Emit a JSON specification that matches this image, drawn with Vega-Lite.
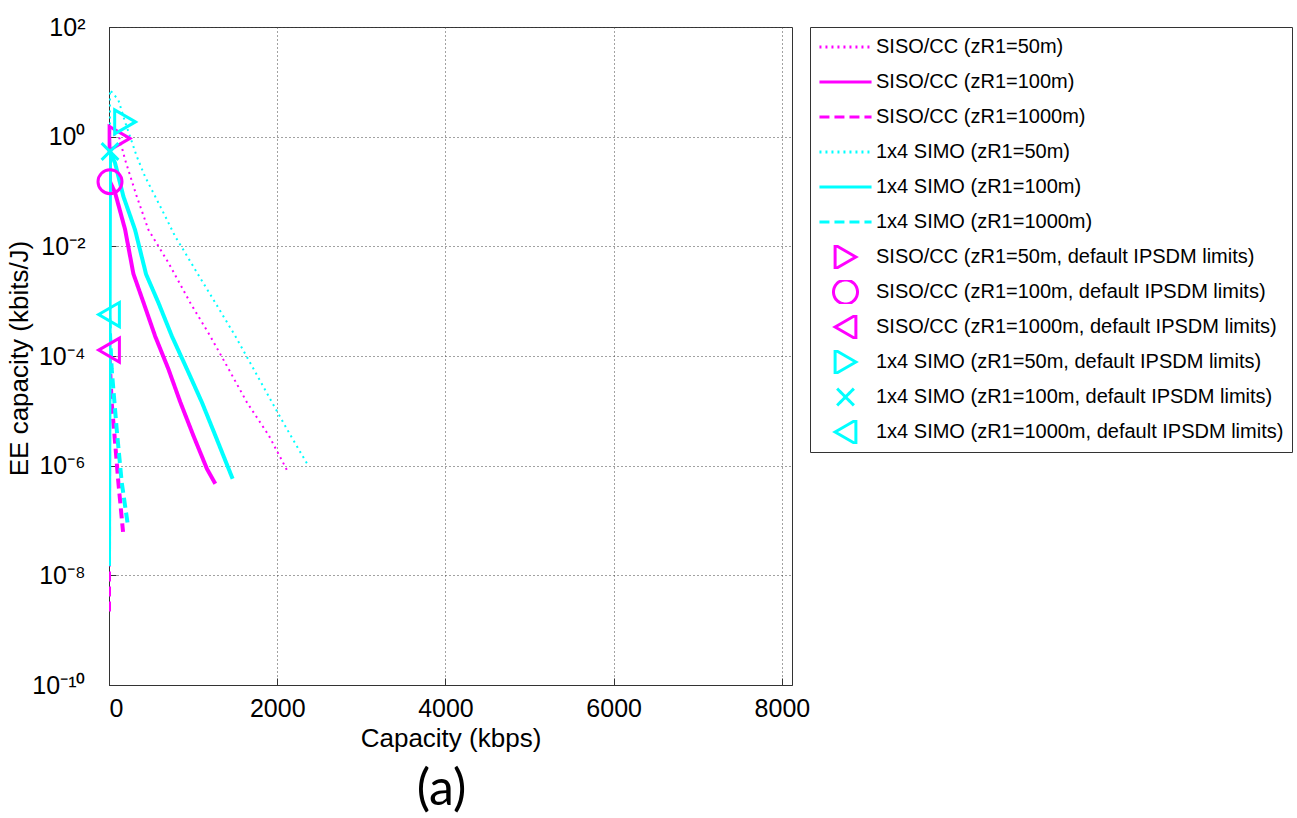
{
  "$schema": "https://vega.github.io/schema/vega-lite/v6.json",
  "width": 683,
  "height": 658,
  "autosize": {"type": "none"},
  "padding": {"left": 109, "top": 27, "right": 505, "bottom": 133},
  "background": "white",
  "config": {
    "font": "Liberation Sans",
    "view": {"stroke": "#333", "strokeWidth": 1},
    "axis": {
      "labelFont": "Liberation Sans", "titleFont": "Liberation Sans",
      "labelFontSize": 25, "titleFontSize": 26, "titleFontWeight": "normal",
      "labelColor": "#000", "titleColor": "#000",
      "domainColor": "#333", "tickColor": "#333",
      "gridColor": "#444", "gridDash": [1, 3], "gridWidth": 1
    },
    "legend": {
      "labelFont": "Liberation Sans", "labelFontSize": 20, "labelColor": "#000",
      "labelLimit": 600, "labelOffset": 17, "symbolOffset": 14, "rowPadding": 11, "clipHeight": 24,
      "symbolSize": 576, "symbolStrokeWidth": 3,
      "padding": 8, "strokeColor": "#333", "fillColor": "white"
    }
  },
  "title": {"text": "(a)", "orient": "bottom", "font": "Lato", "fontSize": 50, "fontWeight": "normal", "color": "#000", "offset": 14, "dx": -9},
  "datasets": {
    "curves": [
      {"series": "SISO/CC (zR1=50m)", "capacity": 0, "ee": 1e-7},
      {"series": "SISO/CC (zR1=50m)", "capacity": 4, "ee": 1.3},
      {"series": "SISO/CC (zR1=50m)", "capacity": 125, "ee": 0.93},
      {"series": "SISO/CC (zR1=50m)", "capacity": 191, "ee": 0.38},
      {"series": "SISO/CC (zR1=50m)", "capacity": 330, "ee": 0.0813},
      {"series": "SISO/CC (zR1=50m)", "capacity": 469, "ee": 0.02},
      {"series": "SISO/CC (zR1=50m)", "capacity": 707, "ee": 0.00501},
      {"series": "SISO/CC (zR1=50m)", "capacity": 966, "ee": 0.000933},
      {"series": "SISO/CC (zR1=50m)", "capacity": 1205, "ee": 0.000229},
      {"series": "SISO/CC (zR1=50m)", "capacity": 1423, "ee": 0.0000575},
      {"series": "SISO/CC (zR1=50m)", "capacity": 1642, "ee": 0.0000141},
      {"series": "SISO/CC (zR1=50m)", "capacity": 1900, "ee": 0.00000355},
      {"series": "SISO/CC (zR1=50m)", "capacity": 2119, "ee": 0.000000813},
      {"series": "SISO/CC (zR1=100m)", "capacity": 0, "ee": 5e-8},
      {"series": "SISO/CC (zR1=100m)", "capacity": 1, "ee": 1.6},
      {"series": "SISO/CC (zR1=100m)", "capacity": 12, "ee": 0.151},
      {"series": "SISO/CC (zR1=100m)", "capacity": 72, "ee": 0.0955},
      {"series": "SISO/CC (zR1=100m)", "capacity": 191, "ee": 0.0204},
      {"series": "SISO/CC (zR1=100m)", "capacity": 290, "ee": 0.00316},
      {"series": "SISO/CC (zR1=100m)", "capacity": 409, "ee": 0.000955},
      {"series": "SISO/CC (zR1=100m)", "capacity": 549, "ee": 0.000229},
      {"series": "SISO/CC (zR1=100m)", "capacity": 707, "ee": 0.0000575},
      {"series": "SISO/CC (zR1=100m)", "capacity": 847, "ee": 0.0000145},
      {"series": "SISO/CC (zR1=100m)", "capacity": 1005, "ee": 0.00000347},
      {"series": "SISO/CC (zR1=100m)", "capacity": 1165, "ee": 0.000000871},
      {"series": "SISO/CC (zR1=100m)", "capacity": 1264, "ee": 0.000000468},
      {"series": "SISO/CC (zR1=1000m)", "capacity": 0, "ee": 2.2e-9},
      {"series": "SISO/CC (zR1=1000m)", "capacity": 1, "ee": 0.000128},
      {"series": "SISO/CC (zR1=1000m)", "capacity": 15, "ee": 0.00005},
      {"series": "SISO/CC (zR1=1000m)", "capacity": 32, "ee": 0.0000141},
      {"series": "SISO/CC (zR1=1000m)", "capacity": 72, "ee": 0.0000027},
      {"series": "SISO/CC (zR1=1000m)", "capacity": 111, "ee": 0.0000005},
      {"series": "SISO/CC (zR1=1000m)", "capacity": 167, "ee": 0.000000062},
      {"series": "1x4 SIMO (zR1=50m)", "capacity": 0, "ee": 1e-7},
      {"series": "1x4 SIMO (zR1=50m)", "capacity": 12, "ee": 7.1},
      {"series": "1x4 SIMO (zR1=50m)", "capacity": 111, "ee": 4.68},
      {"series": "1x4 SIMO (zR1=50m)", "capacity": 191, "ee": 1.86},
      {"series": "1x4 SIMO (zR1=50m)", "capacity": 330, "ee": 0.437},
      {"series": "1x4 SIMO (zR1=50m)", "capacity": 429, "ee": 0.186},
      {"series": "1x4 SIMO (zR1=50m)", "capacity": 549, "ee": 0.0813},
      {"series": "1x4 SIMO (zR1=50m)", "capacity": 668, "ee": 0.0355},
      {"series": "1x4 SIMO (zR1=50m)", "capacity": 787, "ee": 0.0151},
      {"series": "1x4 SIMO (zR1=50m)", "capacity": 906, "ee": 0.00759},
      {"series": "1x4 SIMO (zR1=50m)", "capacity": 1046, "ee": 0.00331},
      {"series": "1x4 SIMO (zR1=50m)", "capacity": 1264, "ee": 0.000933},
      {"series": "1x4 SIMO (zR1=50m)", "capacity": 1503, "ee": 0.000229},
      {"series": "1x4 SIMO (zR1=50m)", "capacity": 1721, "ee": 0.0000575},
      {"series": "1x4 SIMO (zR1=50m)", "capacity": 1940, "ee": 0.0000141},
      {"series": "1x4 SIMO (zR1=50m)", "capacity": 2159, "ee": 0.00000355},
      {"series": "1x4 SIMO (zR1=50m)", "capacity": 2358, "ee": 0.00000107},
      {"series": "1x4 SIMO (zR1=100m)", "capacity": 0, "ee": 1.5e-8},
      {"series": "1x4 SIMO (zR1=100m)", "capacity": 12, "ee": 0.537},
      {"series": "1x4 SIMO (zR1=100m)", "capacity": 72, "ee": 0.331},
      {"series": "1x4 SIMO (zR1=100m)", "capacity": 171, "ee": 0.0813},
      {"series": "1x4 SIMO (zR1=100m)", "capacity": 310, "ee": 0.02},
      {"series": "1x4 SIMO (zR1=100m)", "capacity": 441, "ee": 0.00309},
      {"series": "1x4 SIMO (zR1=100m)", "capacity": 588, "ee": 0.000933},
      {"series": "1x4 SIMO (zR1=100m)", "capacity": 748, "ee": 0.000229},
      {"series": "1x4 SIMO (zR1=100m)", "capacity": 927, "ee": 0.0000575},
      {"series": "1x4 SIMO (zR1=100m)", "capacity": 1106, "ee": 0.0000141},
      {"series": "1x4 SIMO (zR1=100m)", "capacity": 1264, "ee": 0.00000355},
      {"series": "1x4 SIMO (zR1=100m)", "capacity": 1470, "ee": 0.000000575},
      {"series": "1x4 SIMO (zR1=1000m)", "capacity": 0, "ee": 1.5e-8},
      {"series": "1x4 SIMO (zR1=1000m)", "capacity": 1, "ee": 0.00057},
      {"series": "1x4 SIMO (zR1=1000m)", "capacity": 15, "ee": 0.0002},
      {"series": "1x4 SIMO (zR1=1000m)", "capacity": 32, "ee": 0.000058},
      {"series": "1x4 SIMO (zR1=1000m)", "capacity": 91, "ee": 0.0000047},
      {"series": "1x4 SIMO (zR1=1000m)", "capacity": 151, "ee": 0.0000005},
      {"series": "1x4 SIMO (zR1=1000m)", "capacity": 226, "ee": 0.000000079}
    ],
    "markers": [
      {"series": "SISO/CC (zR1=50m, default IPSDM limits)", "capacity": 125, "ee": 0.93},
      {"series": "SISO/CC (zR1=100m, default IPSDM limits)", "capacity": 12, "ee": 0.151},
      {"series": "SISO/CC (zR1=1000m, default IPSDM limits)", "capacity": 0, "ee": 0.000128},
      {"series": "1x4 SIMO (zR1=50m, default IPSDM limits)", "capacity": 191, "ee": 1.86},
      {"series": "1x4 SIMO (zR1=100m, default IPSDM limits)", "capacity": 12, "ee": 0.537},
      {"series": "1x4 SIMO (zR1=1000m, default IPSDM limits)", "capacity": 0, "ee": 0.00057}
    ]
  },
  "layer": [
    {
      "data": {"name": "curves"},
      "mark": {"type": "line", "clip": true},
      "encoding": {
        "x": {
          "field": "capacity", "type": "quantitative",
          "scale": {"domain": [0, 8120], "nice": false, "zero": false},
          "axis": {"values": [0, 2000, 4000, 6000, 8000], "format": "d", "title": "Capacity (kbps)", "tickSize": -7, "labelPadding": 18, "titlePadding": 4}
        },
        "y": {
          "field": "ee", "type": "quantitative",
          "scale": {"type": "log", "domain": [1e-10, 100], "nice": false},
          "axis": {
            "values": [1e-10, 1e-8, 1e-6, 1e-4, 1e-2, 1, 100],
            "labelExpr": "datum.value >= 50 ? '10²' : datum.value >= 0.5 ? '10⁰' : datum.value >= 0.005 ? '10⁻²' : datum.value >= 0.00005 ? '10⁻⁴' : datum.value >= 0.0000005 ? '10⁻⁶' : datum.value >= 0.000000005 ? '10⁻⁸' : '10⁻¹⁰'",
            "title": "EE capacity (kbits/J)", "tickSize": -7, "labelPadding": 31, "titleBaseline": "alphabetic", "titleX": -82, "titleY": 331
          }
        },
        "color": {
          "field": "series", "type": "nominal",
          "scale": {
            "domain": ["SISO/CC (zR1=50m)", "SISO/CC (zR1=100m)", "SISO/CC (zR1=1000m)", "1x4 SIMO (zR1=50m)", "1x4 SIMO (zR1=100m)", "1x4 SIMO (zR1=1000m)", "SISO/CC (zR1=50m, default IPSDM limits)", "SISO/CC (zR1=100m, default IPSDM limits)", "SISO/CC (zR1=1000m, default IPSDM limits)", "1x4 SIMO (zR1=50m, default IPSDM limits)", "1x4 SIMO (zR1=100m, default IPSDM limits)", "1x4 SIMO (zR1=1000m, default IPSDM limits)"],
            "range": ["#ff00ff", "#ff00ff", "#ff00ff", "#00ffff", "#00ffff", "#00ffff", "#ff00ff", "#ff00ff", "#ff00ff", "#00ffff", "#00ffff", "#00ffff"]
          },
          "legend": {"title": null, "orient": "none", "legendX": 701, "legendY": 0, "encode": {"symbols": {"update": {"fill": {"value": "transparent"}}}}}
        },
        "strokeDash": {
          "field": "series", "type": "nominal",
          "scale": {
            "domain": ["SISO/CC (zR1=50m)", "SISO/CC (zR1=100m)", "SISO/CC (zR1=1000m)", "1x4 SIMO (zR1=50m)", "1x4 SIMO (zR1=100m)", "1x4 SIMO (zR1=1000m)", "SISO/CC (zR1=50m, default IPSDM limits)", "SISO/CC (zR1=100m, default IPSDM limits)", "SISO/CC (zR1=1000m, default IPSDM limits)", "1x4 SIMO (zR1=50m, default IPSDM limits)", "1x4 SIMO (zR1=100m, default IPSDM limits)", "1x4 SIMO (zR1=1000m, default IPSDM limits)"],
            "range": [[2, 4], [1, 0], [10, 5], [2, 4], [1, 0], [10, 5], [1, 0], [1, 0], [1, 0], [1, 0], [1, 0], [1, 0]]
          },
          "legend": {"title": null, "orient": "none", "legendX": 701, "legendY": 0}
        },
        "strokeWidth": {
          "field": "series", "type": "nominal",
          "scale": {
            "type": "ordinal",
            "domain": ["SISO/CC (zR1=50m)", "SISO/CC (zR1=100m)", "SISO/CC (zR1=1000m)", "1x4 SIMO (zR1=50m)", "1x4 SIMO (zR1=100m)", "1x4 SIMO (zR1=1000m)"],
            "range": [2, 4, 4, 2, 4, 4]
          },
          "legend": null
        }
      }
    },
    {
      "data": {"name": "markers"},
      "mark": {"type": "point", "filled": false, "clip": false, "opacity": 1, "size": 576, "strokeWidth": 3},
      "encoding": {
        "x": {"field": "capacity", "type": "quantitative"},
        "y": {"field": "ee", "type": "quantitative"},
        "color": {"field": "series", "type": "nominal"},
        "shape": {
          "field": "series", "type": "nominal",
          "scale": {
            "domain": ["SISO/CC (zR1=50m)", "SISO/CC (zR1=100m)", "SISO/CC (zR1=1000m)", "1x4 SIMO (zR1=50m)", "1x4 SIMO (zR1=100m)", "1x4 SIMO (zR1=1000m)", "SISO/CC (zR1=50m, default IPSDM limits)", "SISO/CC (zR1=100m, default IPSDM limits)", "SISO/CC (zR1=1000m, default IPSDM limits)", "1x4 SIMO (zR1=50m, default IPSDM limits)", "1x4 SIMO (zR1=100m, default IPSDM limits)", "1x4 SIMO (zR1=1000m, default IPSDM limits)"],
            "range": ["M-2.17,0L2.17,0", "M-2.17,0L2.17,0", "M-2.17,0L2.17,0", "M-2.17,0L2.17,0", "M-2.17,0L2.17,0", "M-2.17,0L2.17,0", "triangle-right", "circle", "triangle-left", "triangle-right", "M-0.7,-0.7L0.7,0.7M-0.7,0.7L0.7,-0.7", "triangle-left"]
          },
          "legend": {"title": null, "orient": "none", "legendX": 701, "legendY": 0}
        }
      }
    }
  ]
}
